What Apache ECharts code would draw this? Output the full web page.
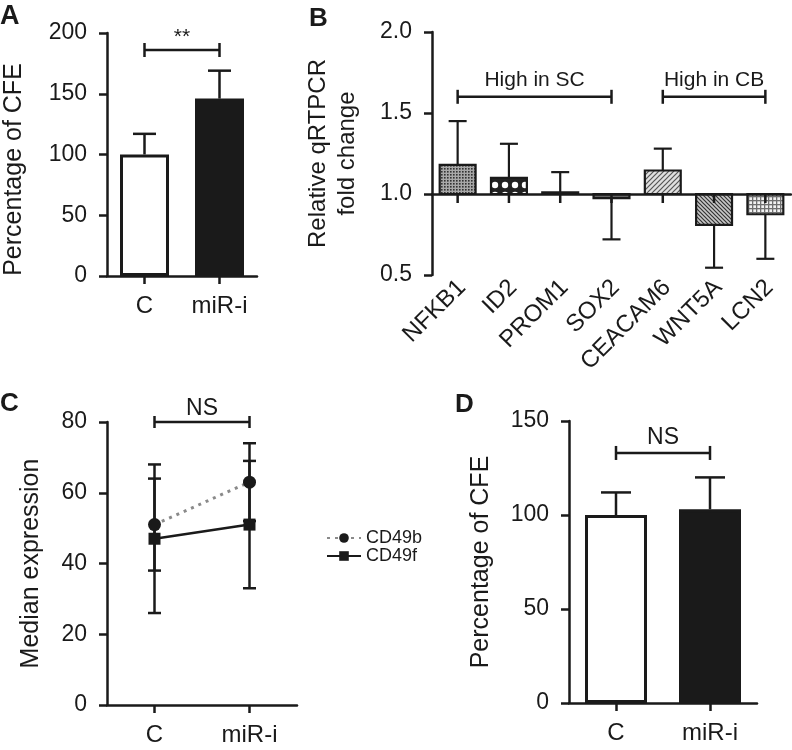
<!DOCTYPE html>
<html><head><meta charset="utf-8">
<script src="https://cdn.jsdelivr.net/npm/echarts@6/dist/echarts.min.js"></script>
<style>html,body{margin:0;padding:0;background:#fff}#c{width:792px;height:750px}</style>
</head><body><div id="c"></div>
<script>
// ---------- Panel A ----------
const groupCats = ['C', 'miR-i'];
const aValues = [100, 146];
const aErrTop = [117, 169];
const aBracket = [['**', 0, 1, 186]];
// ---------- Panel B ----------
const bGenes = ['NFKB1', 'ID2', 'PROM1', 'SOX2', 'CEACAM6', 'WNT5A', 'LCN2'];
const bFold = [1.18, 1.10, 1.01, 0.975, 1.145, 0.81, 0.875];
const bErrEnd = [1.45, 1.31, 1.135, 0.72, 1.28, 0.545, 0.60];
const bGroups = [['High in SC', 0, 3, 1.60], ['High in CB', 4, 6, 1.60]];
const bBaseline = 1.0;
// ---------- Panel C ----------
const cd49b = [51, 63];
const cd49bHigh = [68, 74];
const cd49bLow = [38, 52];
const cd49f = [47, 51];
const cd49fHigh = [64, 69];
const cd49fLow = [26, 33];
const cBracket = [['NS', 0, 1, 80]];
// ---------- Panel D ----------
const dValues = [100, 103];
const dErrTop = [112, 120];
const dBracket = [['NS', 0, 1, 133]];

const FONT = '"Liberation Sans", Arial, Helvetica, sans-serif';
const INK = '#1a1a1a';

function pattern(w, h, draw) {
  const c = document.createElement('canvas');
  c.width = w; c.height = h;
  const ctx = c.getContext('2d');
  draw(ctx, w, h);
  return { type: 'pattern', image: c, repeat: 'repeat' };
}
const bPatterns = [
  pattern(3, 3, (x) => { x.fillStyle = '#a8a8a8'; x.fillRect(0, 0, 3, 3); x.fillStyle = '#333'; x.fillRect(0, 0, 1.6, 1.6); }),
  pattern(10, 10, (x) => { x.fillStyle = '#222'; x.fillRect(0, 0, 10, 10); x.fillStyle = '#fff'; x.beginPath(); x.arc(5, 5, 3.2, 0, Math.PI * 2); x.fill(); }),
  pattern(4, 4, (x) => { x.fillStyle = '#777'; x.fillRect(0, 0, 4, 4); }),
  pattern(4, 4, (x) => { x.fillStyle = '#666'; x.fillRect(0, 0, 4, 4); }),
  pattern(5, 5, (x) => { x.fillStyle = '#e0e0e0'; x.fillRect(0, 0, 5, 5); x.strokeStyle = '#555'; x.lineWidth = 1.2; x.beginPath(); x.moveTo(-1, 6); x.lineTo(6, -1); x.moveTo(-1, 1); x.lineTo(1, -1); x.moveTo(4, 6); x.lineTo(6, 4); x.stroke(); }),
  pattern(4, 4, (x) => { x.fillStyle = '#c8c8c8'; x.fillRect(0, 0, 4, 4); x.strokeStyle = '#333'; x.lineWidth = 1.2; x.beginPath(); x.moveTo(-1, -1); x.lineTo(5, 5); x.moveTo(3, -1); x.lineTo(5, 1); x.moveTo(-1, 3); x.lineTo(1, 5); x.stroke(); }),
  pattern(4, 4, (x) => { x.fillStyle = '#f2f2f2'; x.fillRect(0, 0, 4, 4); x.fillStyle = '#707070'; x.fillRect(0, 0, 4, 1.3); x.fillRect(0, 0, 1.3, 4); })
];

const grids = [
  { left: 107, top: 33, width: 150, height: 243 },
  { left: 432, top: 32, width: 359, height: 243 },
  { left: 107, top: 422, width: 190, height: 283 },
  { left: 569, top: 421, width: 188, height: 282 }
];

const axisLine = { show: true, lineStyle: { color: INK, width: 2.5 } };
const axisTick = { show: true, length: 8, lineStyle: { color: INK, width: 2.5 } };
const tickLabel = { color: INK, fontSize: 23, fontFamily: FONT, margin: 20 };
const catLabel = { color: INK, fontSize: 24, fontFamily: FONT, margin: 18, interval: 0 };
const nameStyle = { color: INK, fontSize: 25, fontFamily: FONT };

function catAxis(gi, data, extra) {
  return Object.assign({
    type: 'category', gridIndex: gi, data: data, boundaryGap: true,
    axisLine: axisLine, axisTick: Object.assign({ alignWithLabel: true }, axisTick),
    axisLabel: catLabel, splitLine: { show: false }
  }, extra || {});
}
function valAxis(gi, min, max, interval, name, gap, extra) {
  return Object.assign({
    type: 'value', gridIndex: gi, min: min, max: max, interval: interval,
    axisLine: axisLine, axisTick: axisTick, axisLabel: tickLabel, splitLine: { show: false },
    name: name, nameLocation: 'middle', nameGap: gap, nameTextStyle: nameStyle
  }, extra || {});
}

function bracketSeries(xi, items, capHalf, fontSize, textGap) {
  return {
    type: 'custom', xAxisIndex: xi, yAxisIndex: xi, silent: true, z: 6, clip: false,
    data: items.map((b) => [b[1], b[3], b[2]]),
    renderItem: function (params, api) {
      const p0 = api.coord([api.value(0), api.value(1)]);
      const p1 = api.coord([api.value(2), api.value(1)]);
      const st = { stroke: INK, lineWidth: 2.5 };
      return {
        type: 'group', children: [
          { type: 'line', shape: { x1: p0[0], y1: p0[1], x2: p1[0], y2: p1[1] }, style: st },
          { type: 'line', shape: { x1: p0[0], y1: p0[1] - capHalf, x2: p0[0], y2: p0[1] + capHalf }, style: st },
          { type: 'line', shape: { x1: p1[0], y1: p1[1] - capHalf, x2: p1[0], y2: p1[1] + capHalf }, style: st },
          { type: 'text', x: (p0[0] + p1[0]) / 2, y: p0[1] - textGap,
            style: { text: items[params.dataIndex][0], fontSize: fontSize, fontFamily: FONT, fill: INK, align: 'center', verticalAlign: 'bottom' } }
        ]
      };
    }
  };
}

function upErrSeries(xi, tops, errs, capW, lw) {
  return {
    type: 'custom', xAxisIndex: xi, yAxisIndex: xi, silent: true, z: 1,
    data: tops.map((t, i) => [i, t, errs[i]]),
    renderItem: function (params, api) {
      const a = api.coord([api.value(0), api.value(1)]);
      const b = api.coord([api.value(0), api.value(2)]);
      const st = { stroke: INK, lineWidth: lw };
      return {
        type: 'group', children: [
          { type: 'line', shape: { x1: a[0], y1: a[1], x2: b[0], y2: b[1] }, style: st },
          { type: 'line', shape: { x1: b[0] - capW / 2, y1: b[1], x2: b[0] + capW / 2, y2: b[1] }, style: st }
        ]
      };
    }
  };
}

function rangeErrSeries(xi, lows, highs, capW) {
  return {
    type: 'custom', xAxisIndex: xi, yAxisIndex: xi, silent: true, z: 2,
    data: lows.map((l, i) => [i, l, highs[i]]),
    renderItem: function (params, api) {
      const a = api.coord([api.value(0), api.value(1)]);
      const b = api.coord([api.value(0), api.value(2)]);
      const st = { stroke: INK, lineWidth: 2.5 };
      return {
        type: 'group', children: [
          { type: 'line', shape: { x1: a[0], y1: a[1], x2: b[0], y2: b[1] }, style: st },
          { type: 'line', shape: { x1: a[0] - capW / 2, y1: a[1], x2: a[0] + capW / 2, y2: a[1] }, style: st },
          { type: 'line', shape: { x1: b[0] - capW / 2, y1: b[1], x2: b[0] + capW / 2, y2: b[1] }, style: st }
        ]
      };
    }
  };
}

const option = {
  animation: false,
  backgroundColor: '#fff',
  grid: grids,
  xAxis: [
    catAxis(0, groupCats),
    catAxis(1, bGenes, { axisLine: { show: false, onZero: false }, axisTick: { show: false },
      axisLabel: Object.assign({}, catLabel, { rotate: 45, margin: 13, fontSize: 24, padding: [11, -6, 0, 0] }) }),
    catAxis(2, groupCats),
    catAxis(3, groupCats),
    // B baseline axis crossing at fold change 1.0 (zero of the hidden helper axis)
    catAxis(1, bGenes, { z: 10, axisLabel: { show: false }, axisTick: { show: false },
      axisLine: { show: true, onZero: true, onZeroAxisIndex: 4, lineStyle: { color: INK, width: 2.5 } } })
  ],
  yAxis: [
    valAxis(0, 0, 200, 50, 'Percentage of CFE', 80, { nameTextStyle: Object.assign({ padding: [0, 30, 0, 0] }, nameStyle) }),
    valAxis(1, 0.5, 2.0, 0.5, 'Relative qRTPCR\nfold change', 70,
      { axisLabel: Object.assign({}, tickLabel, { formatter: (v) => v.toFixed(1) }),
        nameTextStyle: Object.assign({}, nameStyle, { fontSize: 24, lineHeight: 29 }) }),
    valAxis(2, 0, 80, 20, 'Median expression', 63),
    valAxis(3, 0, 150, 50, 'Percentage of CFE', 75),
    { type: 'value', gridIndex: 1, show: false, min: 0.5 - bBaseline, max: 2.0 - bBaseline,
      axisLine: { show: false }, axisLabel: { show: false }, axisTick: { show: false }, splitLine: { show: false } }
  ],
  legend: {
    orient: 'vertical', left: 321, top: 524, itemWidth: 34, itemHeight: 12, itemGap: 0,
    data: ['CD49b', 'CD49f'],
    textStyle: { color: INK, fontSize: 18, fontFamily: FONT }
  },
  graphic: [
    { type: 'text', left: 0, top: 3, style: { text: 'A', fontSize: 27, fontWeight: 'bold', fontFamily: FONT, fill: INK } },
    { type: 'text', left: 309, top: 6, style: { text: 'B', fontSize: 26, fontWeight: 'bold', fontFamily: FONT, fill: INK } },
    { type: 'text', left: 0, top: 391, style: { text: 'C', fontSize: 26, fontWeight: 'bold', fontFamily: FONT, fill: INK } },
    { type: 'text', left: 455, top: 392, style: { text: 'D', fontSize: 26, fontWeight: 'bold', fontFamily: FONT, fill: INK } }
  ],
  series: [
    // A
    { type: 'bar', xAxisIndex: 0, yAxisIndex: 0, barWidth: 49, z: 2,
      data: aValues.map((v, i) => ({ value: v, itemStyle: { color: i === 0 ? '#fff' : '#1a1a1a', borderColor: INK, borderWidth: 3 } })) },
    upErrSeries(0, aValues, aErrTop, 23, 2.5),
    bracketSeries(0, aBracket, 7, 21, 2),
    // B
    {
      type: 'custom', xAxisIndex: 1, yAxisIndex: 1, z: 3, silent: true,
      data: bFold.map((v, i) => [i, v, bErrEnd[i]]),
      renderItem: function (params, api) {
        const i = params.dataIndex;
        const base = api.coord([api.value(0), bBaseline]);
        const top = api.coord([api.value(0), api.value(1)]);
        const err = api.coord([api.value(0), api.value(2)]);
        const bw = api.size([1, 0])[0] * 0.7;
        const y0 = Math.min(base[1], top[1]);
        const h = Math.abs(base[1] - top[1]);
        const st = { stroke: INK, lineWidth: 2.2 };
        return {
          type: 'group', children: [
            { type: 'line', shape: { x1: top[0], y1: top[1], x2: err[0], y2: err[1] }, style: st },
            { type: 'line', shape: { x1: err[0] - 9, y1: err[1], x2: err[0] + 9, y2: err[1] }, style: st },
            { type: 'rect', shape: { x: base[0] - bw / 2, y: y0, width: bw, height: h },
              style: { fill: bPatterns[i], stroke: INK, lineWidth: 2.2 } },
            { type: 'line', shape: { x1: base[0], y1: base[1], x2: base[0], y2: base[1] + 9 },
              style: { stroke: INK, lineWidth: 2.5 } }
          ]
        };
      }
    },
    bracketSeries(1, bGroups, 7, 21, 6),
    // C
    rangeErrSeries(2, cd49bLow, cd49bHigh, 13),
    rangeErrSeries(2, cd49fLow, cd49fHigh, 13),
    { name: 'CD49b', type: 'line', xAxisIndex: 2, yAxisIndex: 2, z: 4, data: cd49b,
      symbol: 'circle', symbolSize: 13, itemStyle: { color: INK },
      lineStyle: { color: '#8a8a8a', width: 3, type: [3, 5] } },
    { name: 'CD49f', type: 'line', xAxisIndex: 2, yAxisIndex: 2, z: 4, data: cd49f,
      symbol: 'rect', symbolSize: 12, itemStyle: { color: INK },
      lineStyle: { color: INK, width: 2.5 } },
    bracketSeries(2, cBracket, 6, 23, 2),
    // D
    { type: 'bar', xAxisIndex: 3, yAxisIndex: 3, barWidth: 62, z: 2,
      data: dValues.map((v, i) => ({ value: v, itemStyle: { color: i === 0 ? '#fff' : '#1a1a1a', borderColor: INK, borderWidth: 3 } })) },
    upErrSeries(3, dValues, dErrTop, 30, 2.5),
    bracketSeries(3, dBracket, 7, 23, 4)
  ]
};

const chart = echarts.init(document.getElementById('c'), null, { renderer: 'canvas' });
chart.setOption(option);
</script>
</body></html>
